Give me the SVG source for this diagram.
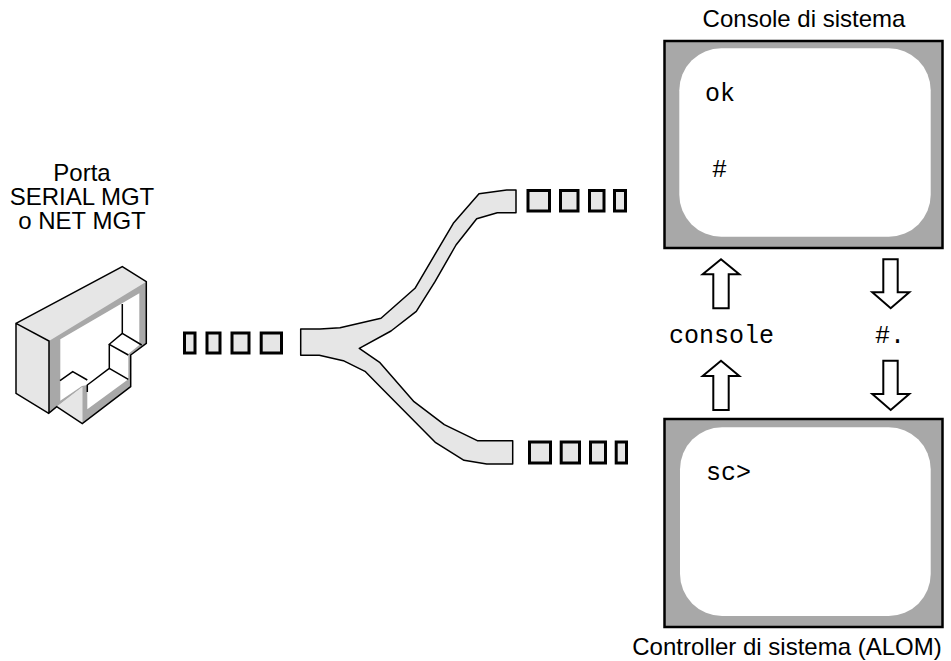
<svg xmlns="http://www.w3.org/2000/svg" width="951" height="661" viewBox="0 0 951 661">
<style>
.s{font-family:"Liberation Sans",Arial,sans-serif;font-size:24px;fill:#000;text-anchor:middle}
.m{font-family:"Liberation Mono","Courier New",monospace;font-size:25px;fill:#000}
.b{fill:#e6e6e6;stroke:#000;stroke-width:3}
.l{fill:#e6e6e6;stroke:#000;stroke-width:1.5;stroke-linejoin:round}
.a{fill:#fff;stroke:#000;stroke-width:2}
.f{fill:#a8a8a8;stroke:#000;stroke-width:2.5}
.i{fill:none;stroke:#000;stroke-width:1.5}
</style>
<rect width="951" height="661" fill="#fff"/>
<g id="port">
<path d="M16 323.300L122.300 266.700L146.300 281.700L146.300 343.300L130.700 355L130.700 386.700L82.300 423.700L56.700 406.700L48.700 413.300L16 393.300Z" fill="#e6e6e6"/>
<path d="M49 341L146.300 281.700V343.300L130.700 355V386.700L82.300 423.700V387L56.700 406.700L48.700 413.300Z" fill="#a8a8a8"/>
<path d="M60.300 339.300L139.300 293.300V345L128.300 354V379.300L87.300 409.300V385L82 386L60.300 400.700Z" fill="#fff"/>
<path d="M56.700 406.700L82.300 387V423.700Z" fill="#e6e6e6"/>
<path class="i" d="M16 323.300L122.300 266.700L146.300 281.700V343.300L130.700 355V386.700L82.300 423.700L56.700 406.700L48.700 413.300L16 393.300ZM16 323.300L49 341V413.300M122.300 304V333.300L109.300 344.300L128.300 355M122.300 333.300L141.700 345M109.300 344.300V368.300L87.300 385V392M109.300 368.300L128.300 379.300M60 380.700L72.700 371.700L87.300 380"/>
</g>
<g id="port-label">
<text class="s" x="82" y="181">Porta</text>
<text class="s" x="82" y="205">SERIAL MGT</text>
<text class="s" x="82" y="229">o NET MGT</text>
</g>
<g id="connectors">
<path class="l" d="M300.700 329H320L340 327.700L381 318.300L415 288.300L453.300 223.300L479 193.700L506.700 190H516V212.700H497.300L476.700 218.700L456 245L435 281.700L416.300 311.300L391 331L359.300 348.300L380 362.700L414 401.700L444.300 424.700L477.300 440.700H512.700V464H486.700L464 460.300L435.700 442.700L381.700 388.300L365 371.300L343.300 360.700L319.300 355.300H300.700Z"/>
<g>
<rect class="b" x="184.500" y="333" width="10.500" height="20"/><rect class="b" x="207" y="333" width="13" height="20"/><rect class="b" x="232" y="333" width="17" height="20"/><rect class="b" x="261.200" y="333" width="20.300" height="20"/>
<rect class="b" x="528" y="190.500" width="21.500" height="20.500"/><rect class="b" x="560.500" y="190.500" width="17.500" height="20.500"/><rect class="b" x="589.500" y="190.500" width="14.500" height="20.500"/><rect class="b" x="614.500" y="190.500" width="11" height="20.500"/>
<rect class="b" x="529.500" y="442" width="21" height="21"/><rect class="b" x="561.200" y="442" width="18.300" height="21"/><rect class="b" x="590.500" y="442" width="15" height="21"/><rect class="b" x="616.200" y="442" width="10.300" height="21"/>
</g>
<path class="a" d="M713.300 308.300V274.300H702.700L721 259.300L739.300 274.300H728.700V308.300Z"/>
<path class="a" d="M713.300 410V376H702.700L721 360.700L739.300 376H728.700V410Z"/>
<path class="a" d="M883.300 259.300H897.700V292.300H909.300L890.700 308.300L872.300 292.300H883.300Z"/>
<path class="a" d="M883.300 360.700H897.700V394H909.300L890.700 410L872.300 394H883.300Z"/>
</g>
<g id="console-screen">
<rect class="f" x="664.500" y="41" width="278" height="207"/>
<rect x="679.300" y="48.300" width="251.400" height="188.400" rx="42" fill="#fff"/>
<text class="s" x="804" y="27">Console di sistema</text>
<text class="m" x="705" y="101">ok</text>
<text class="m" x="712" y="177">#</text>
</g>
<g id="controller-screen">
<rect class="f" x="664.500" y="419" width="278" height="208"/>
<rect x="680" y="427.300" width="250.700" height="188.700" rx="42" fill="#fff"/>
<text class="m" x="706" y="480">sc&gt;</text>
<text class="s" x="787" y="655">Controller di sistema (ALOM)</text>
</g>
<g id="commands">
<text class="m" x="669" y="343">console</text>
<text class="m" x="875" y="343">#.</text>
</g>
</svg>
